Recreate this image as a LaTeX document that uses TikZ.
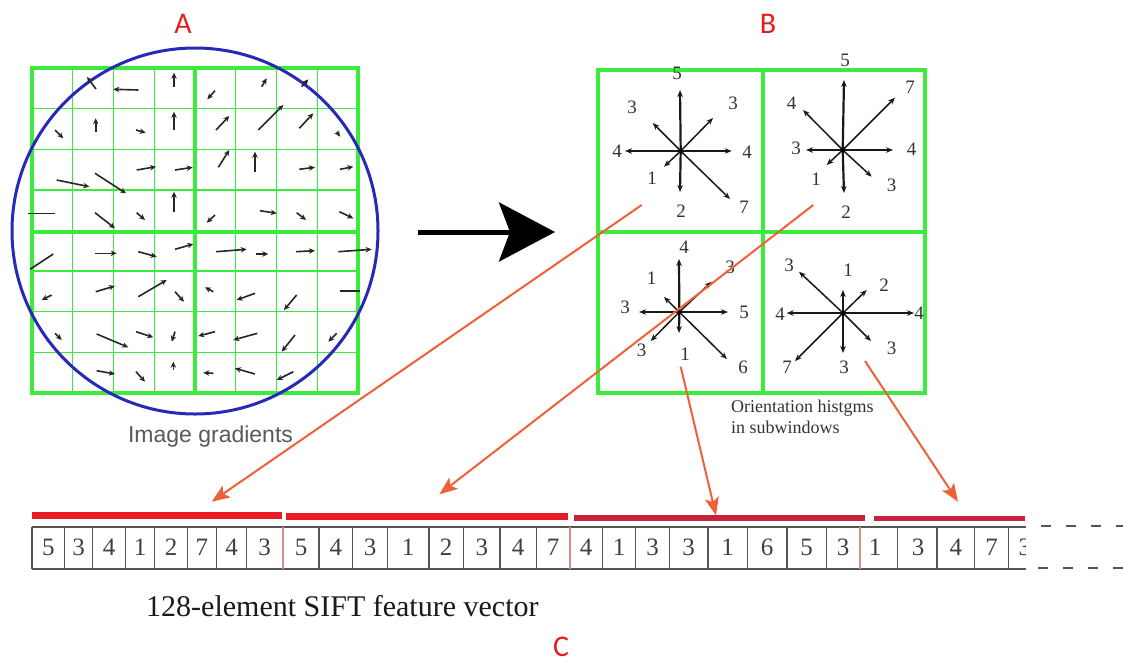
\documentclass[tikz,border=0pt]{standalone}
\usepackage{fontspec}
\setmainfont{Liberation Serif}
\newfontfamily\labelfont{Carlito}
\newfontfamily\plainsans{Liberation Sans}
\usetikzlibrary{arrows.meta}
\definecolor{gridgreen}{RGB}{60,236,60}
\definecolor{ringblue}{RGB}{40,40,185}
\definecolor{barred}{RGB}{232,28,36}
\definecolor{barcrimson}{RGB}{200,35,62}
\definecolor{linkorange}{RGB}{240,96,56}
\definecolor{letterred}{RGB}{228,30,30}
\definecolor{cellgray}{RGB}{85,85,85}
\definecolor{sepred}{RGB}{215,140,140}
\begin{document}
\begin{tikzpicture}[x=1pt,y=-1pt,
  greenthick/.style={gridgreen,line width=3.5pt},
  greenthin/.style={gridgreen,line width=1.4pt},
  grad/.style={line width=1.6pt,black!85,-{Stealth[length=6pt,width=5.5pt]}},
  gradplain/.style={line width=1.6pt,black!85},
  hist/.style={line width=1.5pt,black!90,-{Stealth[length=7pt,width=5.5pt]}},
  histv/.style={hist,line width=2.2pt},
  hnum/.style={font=\fontsize{19}{19}\selectfont,text=black!80,inner sep=0pt},
  vnum/.style={font=\fontsize{25}{25}\selectfont,text=black!75,inner sep=0pt,anchor=base},
  cellline/.style={cellgray,line width=1.2pt},
  bar/.style={draw=none,inner sep=0pt,anchor=north west},
  link/.style={linkorange,line width=2pt,-{Stealth[length=18pt,width=14pt,inset=4pt]}},
  letter/.style={font=\labelfont\fontsize{30}{30}\selectfont,text=letterred,inner sep=0pt}
]
\useasboundingbox (0,0) rectangle (1123,662);

% ---------- panel A: gradient grid ----------
\foreach \i in {1,2,3,5,6,7} {
  \draw[greenthin] (32+40.75*\i,68) -- (32+40.75*\i,393);
  \draw[greenthin] (32,68+40.625*\i) -- (358,68+40.625*\i);
}
\draw[greenthick] (32,68) rectangle (358,393);
\draw[greenthick] (195,68) -- (195,393);
\draw[greenthick] (32,232) -- (358,232);
\draw[ringblue,line width=3pt] (195,231) circle (183);

\foreach \a/\b/\c/\d in {
  96/89/87/77, 138.3/90/113.3/89.3, 174/86.7/174/72.7, 215/90.7/207.3/99.3,
  261.7/86.7/266.7/78.3, 301.7/86.7/308.3/79.3,
  55/130/63.3/138.3, 95.7/131.7/95.7/118.3, 136/130/145.7/132.7, 174/130/174/111.7,
  216/130/229.3/116, 258.3/130/283.3/105, 299.3/128.3/313.3/113.3, 336.7/131.7/340/136.7,
  56.7/180/89.3/186.7, 95/173.3/126/193.3, 136.7/170/156/166.7, 175/170/192.7/167.3,
  218.3/167.3/229.3/150, 255/171.7/255/151.7, 299.3/169.3/315/167.3, 340/169.3/353.3/166.7,
  95/212.7/115/228.3, 136.7/212.7/145/220, 174/211.7/174/191.7, 215/215/206.7/222.7,
  260/210.7/276.7/213.3, 296.7/212.7/306/220, 339.3/211.7/353.3/218.3,
  95/253.3/116.7/253.3, 138.3/251.7/156.7/256.7, 175/249.3/193.3/244, 216/251.7/246.7/249.3,
  256/254/268.3/254, 296/251.7/315/250.7, 338.3/251.7/371.7/249.3,
  51.7/295/41.7/300, 95.7/291.7/115/286, 138.3/296.7/166.7/280, 175/291.7/184/301.7,
  213.3/291.7/205/287.3, 255/293.3/236.7/300, 296.7/295/284/310,
  55/333.3/61.7/340, 96.7/334/128.3/347.3, 136/331.7/153.3/337.3, 175/331.7/171.7/341.7,
  215/331.7/198.3/336, 257.3/333.3/233.3/340, 295/335/281.7/351.7, 336.7/333.3/328.3/341.7,
  96.7/370.7/115/374, 136/371.7/145/381.7, 173.3/370/173.3/361.7, 213.3/373.3/203.3/372.7,
  255/374/235/368.3, 293.3/371.7/276.7/380}
  \draw[grad] (\a,\b) -- (\c,\d);
\foreach \a/\b/\c/\d in {28.3/213.3/55/213.3, 53.3/254/30/269.3, 340/290.7/360/290.7}
  \draw[gradplain] (\a,\b) -- (\c,\d);

\node[font=\plainsans\fontsize{23}{23}\selectfont,text=black!65,inner sep=0pt] (gradtext) at (210.5,437) {Image gradients};
\node[letter] (labA) at (183,23.5) {A};

% ---------- big arrow between the panels ----------
\coordinate (bigfrom) at (418,232);
\coordinate (bigto) at (555,232);
\draw[line width=5pt,-{Stealth[length=56pt,width=59pt,inset=11pt]}] (bigfrom) -- (bigto);

% ---------- panel B: orientation histograms ----------
\draw[greenthick] (598,70) rectangle (925,393);
\draw[greenthick] (763,70) -- (763,393);
\draw[greenthick] (598,232) -- (925,232);

\coordinate (c1) at (680.7,151);
\coordinate (c2) at (842.7,150);
\coordinate (c3) at (679.3,312);
\coordinate (c4) at (843,313);

% top-left window
\foreach \x/\y in {680/90, 680/192} \draw[histv] (c1) -- (\x,\y);
\foreach \x/\y in {625/151, 731.7/151, 713/118, 652.7/123, 664/166.7, 730/199} \draw[hist] (c1) -- (\x,\y);
\foreach \x/\y/\n in {677/73/5, 632/107/3, 733/103/3, 617/151/4, 747/152/4, 652/178/1, 681/211/2, 744/207/7}
  \node[hnum] at (\x,\y) {\n};
% top-right window
\foreach \x/\y in {844/80, 844/193} \draw[histv] (c2) -- (\x,\y);
\foreach \x/\y in {806/150, 893/150, 895/97.7, 803/110, 826.7/165, 871.7/176.7} \draw[hist] (c2) -- (\x,\y);
\foreach \x/\y/\n in {845/60/5, 910/87/7, 791.7/103/4, 796/148/3, 911.7/149/4, 816/179/1, 891.7/185/3, 846/212/2}
  \node[hnum] at (\x,\y) {\n};
% bottom-left window
\foreach \x/\y in {679/259, 679/333} \draw[histv] (c3) -- (\x,\y);
\foreach \x/\y in {639/312, 728/312, 711.7/281.7, 664/297, 650.7/341, 727/359} \draw[hist] (c3) -- (\x,\y);
\foreach \x/\y/\n in {684/247/4, 651.7/278/1, 730/267/3, 625/307/3, 744/312/5, 641.7/350/3, 685/354/1, 743/367/6}
  \node[hnum] at (\x,\y) {\n};
% bottom-right window
\foreach \x/\y in {843/290, 843/353} \draw[histv] (c4) -- (\x,\y);
\foreach \x/\y in {786.7/313, 914/313, 866.7/290, 799/271.7, 795/361, 871/341} \draw[hist] (c4) -- (\x,\y);
\foreach \x/\y/\n in {789/265/3, 848/270/1, 884/285/2, 780/314/4, 919/313/4, 891.7/348/3, 787/367/7, 844/367/3}
  \node[hnum] at (\x,\y) {\n};
\foreach \c in {c1,c2,c3,c4} \fill[black] (\c) circle (2.2);

\node[font=\fontsize{18}{18}\selectfont,text=black!80,inner sep=0pt,anchor=base west] (orient1) at (731,412.5) {Orientation histgms};
\node[font=\fontsize{18}{18}\selectfont,text=black!80,inner sep=0pt,anchor=base west] (orient2) at (731,433) {in subwindows};
\node[letter] (labB) at (768,23.5) {B};

% ---------- feature vector ----------
\node[bar,fill=barred,minimum width=250pt,minimum height=7.5pt] (bar1) at (32,511.5) {};
\node[bar,fill=barred,minimum width=282pt,minimum height=7pt] (bar2) at (286,512.5) {};
\node[bar,fill=barcrimson,minimum width=291pt,minimum height=6pt] (bar3) at (574,515) {};
\node[bar,fill=barcrimson,minimum width=151pt,minimum height=5pt] (bar4) at (874,516) {};

\draw[cellline] (32,527) -- (1026,527);
\draw[cellline] (32,569) -- (1026,569);
\foreach \x in {32,64.7,92.7,125.5,154.5,187.3,216.4,246.5,319,352.7,387.3,429,463.6,500,536.4,
                602.4,635.4,669.5,708,747.4,787,826.4,897.5,937,974.7,1008.8}
  \draw[cellline] (\x,527) -- (\x,569);
\foreach \x in {283,570,860}
  \draw[sepred,line width=1.2pt] (\x,527) -- (\x,569);

\foreach \x/\n in {48.3/5, 78.7/3, 109/4, 140/1, 171/2, 201.8/7, 231.5/4, 264.7/3,
                   301/5, 335.8/4, 370/3, 408/1, 446/2, 481.8/3, 518/4, 553/7,
                   586/4, 619/1, 652.5/3, 688.7/3, 727.7/1, 767/6, 806.7/5, 843/3,
                   875/1, 918/3, 955.8/4, 991.7/7}
  \node[vnum] at (\x,555) {\n};
\begin{scope}
  \clip (1009,527) rectangle (1025,569);
  \node[vnum,anchor=base west] at (1018.5,555) {3};
\end{scope}
\draw[cellgray,line width=1.3pt,dash pattern=on 10pt off 15pt] (1041,526) -- (1123,526);
\draw[cellgray,line width=1.3pt,dash pattern=on 10pt off 15pt] (1038,568) -- (1123,568);

\node[font=\fontsize{30}{30}\selectfont,text=black!90,inner sep=0pt,anchor=base west] (vectext) at (146,616) {128-element SIFT feature vector};
\node[letter] (labC) at (561,647) {C};

% ---------- links from the windows to the vector segments ----------
\coordinate (src1) at (641.7,205);
\coordinate (src2) at (813.3,205);
\coordinate (src3) at (680.7,366.7);
\coordinate (src4) at (865,361);
\coordinate (dst1) at (211.7,501.7);
\coordinate (dst2) at (439.3,494.3);
\coordinate (dst3) at (716,515.5);
\coordinate (dst4) at (958,501.7);
\foreach \i in {1,2,3,4} \draw[link] (src\i) -- (dst\i);
\end{tikzpicture}
\end{document}
